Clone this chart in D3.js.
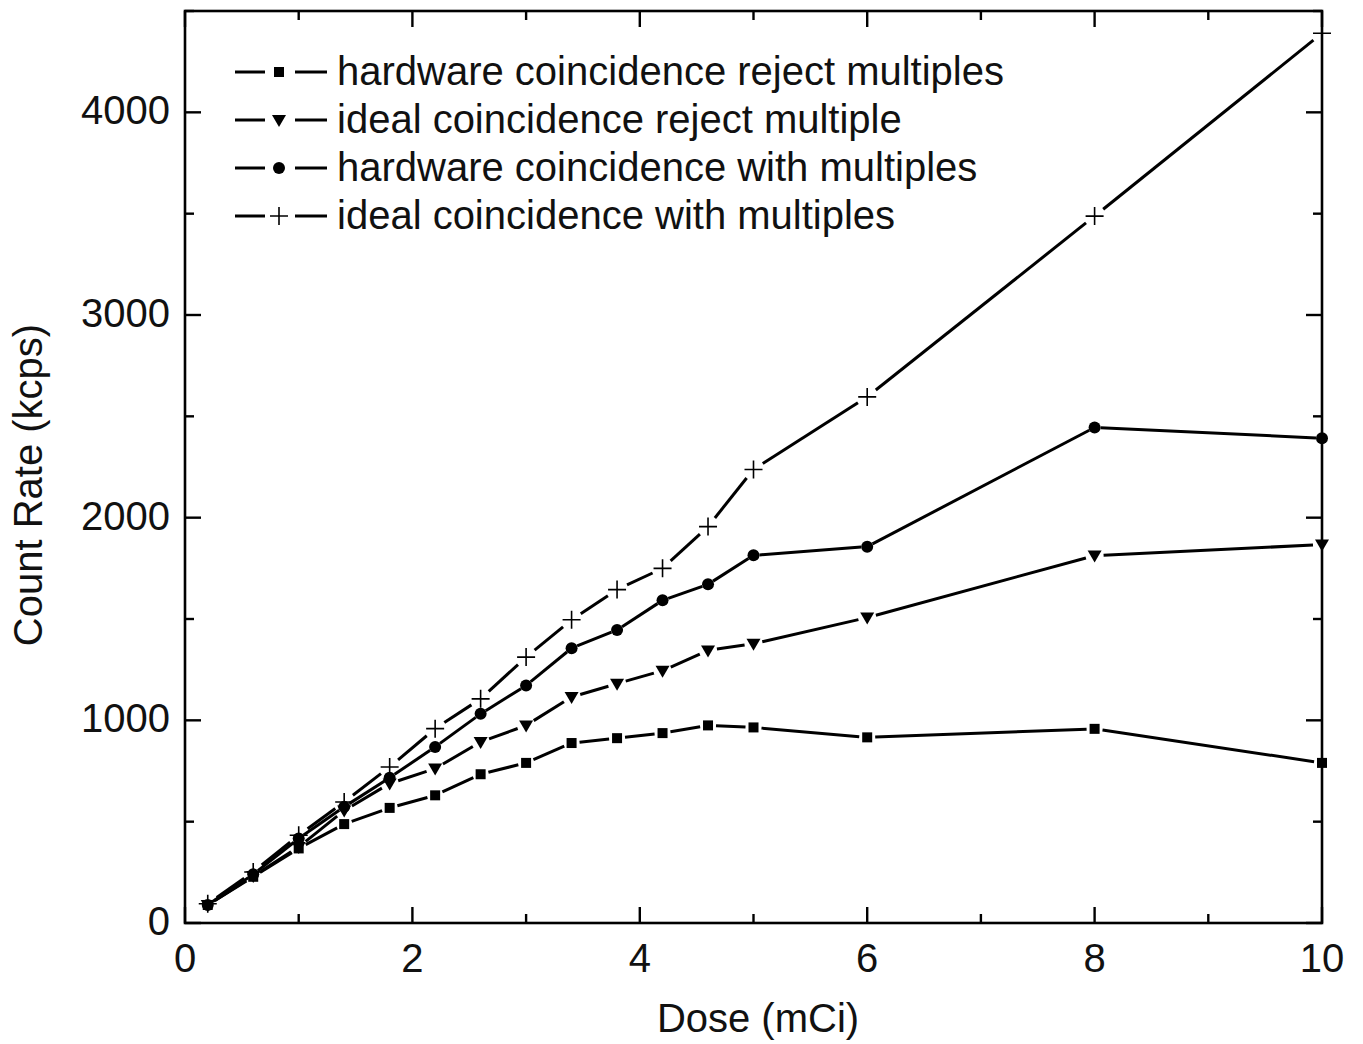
<!DOCTYPE html>
<html><head><meta charset="utf-8">
<script src="https://cdn.jsdelivr.net/npm/d3@7"></script>
<style>body{margin:0;background:#fff}svg{display:block}text{font-family:"Liberation Sans",Arial,sans-serif;fill:#111}</style>
</head><body><svg id="c" width="1363" height="1044"></svg>
<script>
const doses = [0.2,0.6,1.0,1.4,1.8,2.2,2.6,3.0,3.4,3.8,4.2,4.6,5,6,8,10];
const hwReject   = [89,228,368,488,568,630,734,790,888,912,937,975,965,916,958,790];
const idealReject= [89,232,375,555,688,762,893,975,1115,1181,1245,1345,1378,1507,1813,1867];
const hwMulti    = [89,240,417,573,717,869,1032,1172,1356,1446,1592,1671,1814,1857,2445,2392];
const idealMulti = [95,252,433,597,770,959,1106,1312,1496,1645,1750,1956,2238,2596,3488,4390];
const seriesNames = ["hardware coincidence reject multiples","ideal coincidence reject multiple","hardware coincidence with multiples","ideal coincidence with multiples"];
const seriesMarkers = ["square","triangle","circle","plus"];
const xTicks = [0,2,4,6,8,10];
const yTicks = [0,1000,2000,3000,4000];

const series = [hwReject, idealReject, hwMulti, idealMulti].map((v,i)=>({name:seriesNames[i], marker:seriesMarkers[i], values:v}));
const gaps = {square:8, triangle:9, circle:6, plus:11};

const svg = d3.select("#c");
const L=185, R=1322, T=11, B=923;
const x = d3.scaleLinear().domain([0,10]).range([L,R]);
const y = d3.scaleLinear().domain([0,4500]).range([B,T]);

function drawMarker(g, type, cx, cy){
  if(type==="square") g.append("rect").attr("x",cx-5).attr("y",cy-5).attr("width",10).attr("height",10).attr("fill","#000");
  else if(type==="triangle") g.append("path").attr("d",`M${cx-7},${cy-5}L${cx+7},${cy-5}L${cx},${cy+7}Z`).attr("fill","#000");
  else if(type==="circle") g.append("circle").attr("cx",cx).attr("cy",cy).attr("r",6).attr("fill","#000");
  else g.append("path").attr("d",`M${cx-9},${cy}H${cx+9}M${cx},${cy-9}V${cy+9}`).attr("stroke","#000").attr("stroke-width",1.6).attr("fill","none");
}

const plot = svg.append("g");
series.forEach(s=>{
  const pts = doses.map((d,i)=>[x(d), y(s.values[i])]);
  const gap = gaps[s.marker];
  for(let i=0;i<pts.length-1;i++){
    const [x1,y1]=pts[i],[x2,y2]=pts[i+1];
    const dx=x2-x1, dy=y2-y1, len=Math.hypot(dx,dy);
    if(len<=2*gap) continue;
    const ux=dx/len, uy=dy/len;
    plot.append("line").attr("x1",x1+ux*gap).attr("y1",y1+uy*gap).attr("x2",x2-ux*gap).attr("y2",y2-uy*gap)
      .attr("stroke","#000").attr("stroke-width",3);
  }
  pts.forEach(p=>drawMarker(plot, s.marker, p[0], p[1]));
});

// frame
svg.append("rect").attr("x",L).attr("y",T).attr("width",R-L).attr("height",B-T).attr("fill","none").attr("stroke","#000").attr("stroke-width",2.6);

// ticks (inward, mirrored)
const ax = svg.append("g").attr("stroke","#000").attr("stroke-width",2.4);
d3.range(0,11,1).forEach(v=>{
  const len = v%2===0?16:9;
  ax.append("line").attr("x1",x(v)).attr("x2",x(v)).attr("y1",B).attr("y2",B-len);
  ax.append("line").attr("x1",x(v)).attr("x2",x(v)).attr("y1",T).attr("y2",T+len);
});
d3.range(0,4501,500).forEach(v=>{
  const len = v%1000===0?16:9;
  ax.append("line").attr("y1",y(v)).attr("y2",y(v)).attr("x1",L).attr("x2",L+len);
  ax.append("line").attr("y1",y(v)).attr("y2",y(v)).attr("x1",R).attr("x2",R-len);
});

// tick labels
xTicks.forEach(v=>svg.append("text").attr("x",x(v)).attr("y",972).attr("text-anchor","middle").attr("font-size",40).text(v));
yTicks.forEach(v=>svg.append("text").attr("x",170).attr("y",y(v)+12).attr("text-anchor","end").attr("font-size",40).text(v));

// axis titles
svg.append("text").attr("x",758).attr("y",1032).attr("text-anchor","middle").attr("font-size",40).text("Dose (mCi)");
svg.append("text").attr("transform","translate(42,485) rotate(-90)").attr("text-anchor","middle").attr("font-size",40).text("Count Rate (kcps)");

// legend
const lg = svg.append("g");
series.forEach((s,i)=>{
  const cy = 72 + i*48;
  lg.append("line").attr("x1",235).attr("x2",265).attr("y1",cy).attr("y2",cy).attr("stroke","#000").attr("stroke-width",3);
  lg.append("line").attr("x1",295).attr("x2",327).attr("y1",cy).attr("y2",cy).attr("stroke","#000").attr("stroke-width",3);
  drawMarker(lg, s.marker, 279, cy);
  lg.append("text").attr("x",337).attr("y",cy+13).attr("font-size",40).text(s.name);
});
</script></body></html>
